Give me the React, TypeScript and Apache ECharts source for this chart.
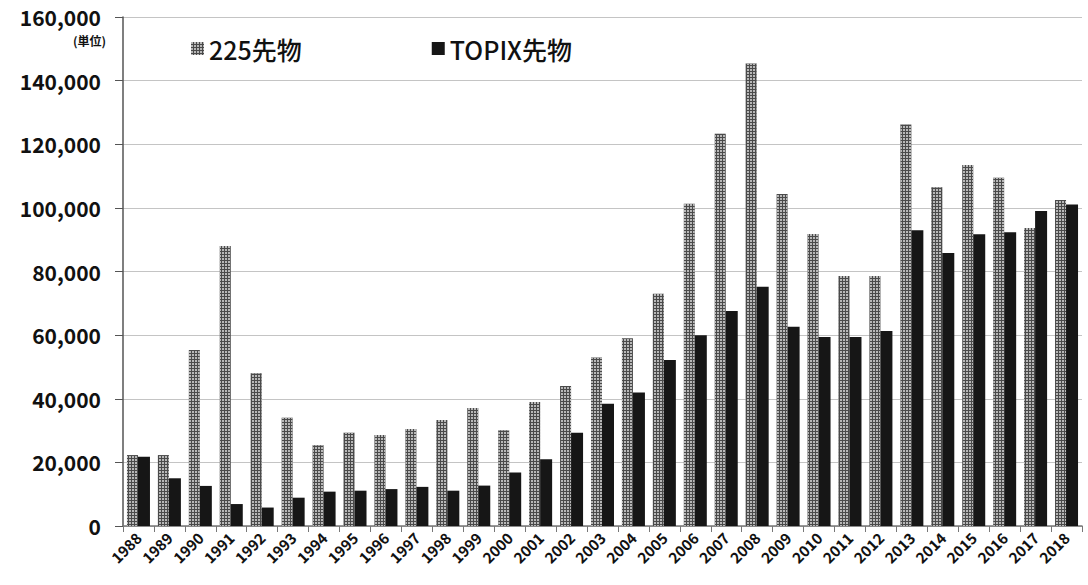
import React, { useEffect, useRef } from "react";
import * as echarts from "echarts";

const years = [
  "1988","1989","1990","1991","1992","1993","1994","1995","1996","1997",
  "1998","1999","2000","2001","2002","2003","2004","2005","2006","2007",
  "2008","2009","2010","2011","2012","2013","2014","2015","2016","2017","2018",
];
const nikkei225 = [
  22300, 22300, 55300, 88000, 48000, 34000, 25400, 29300, 28600, 30500,
  33300, 37100, 30100, 39000, 44000, 53000, 59000, 73000, 101300, 123300,
  145400, 104400, 91800, 78600, 78600, 126200, 106500, 113500, 109500, 93700, 102500,
];
const topix = [
  21800, 15000, 12600, 6900, 5800, 8900, 10800, 11100, 11600, 12300,
  11100, 12700, 16800, 21000, 29300, 38400, 42000, 52200, 60000, 67600,
  75200, 62600, 59400, 59400, 61300, 93000, 85800, 91700, 92300, 99000, 101100,
];
const seriesNames = ["225先物", "TOPIX先物"];
const unitLabel = "(単位)";

const FONT = "'Noto Sans CJK JP', 'Noto Sans', sans-serif";

export default function App() {
  const ref = useRef<HTMLDivElement>(null);
  useEffect(() => {
    if (!ref.current) return;
    const chart = echarts.init(ref.current, null, { renderer: "svg" });
    const decal = {
      symbol: "rect",
      symbolSize: 1,
      dashArrayX: [[2, 1]],
      dashArrayY: [2, 1],
      color: "#b8b8b8",
      rotation: 0,
    };
    chart.setOption({
      animation: false,
      backgroundColor: "#ffffff",
      grid: { left: 123, right: 6, top: 17, bottom: 59, containLabel: false },
      legend: {
        left: 186,
        top: 31,
        itemGap: 130,
        itemWidth: 13,
        itemHeight: 13,
        icon: "rect",
        textStyle: { fontFamily: FONT, fontSize: 25, fontWeight: 500, color: "#111" },
        data: seriesNames,
      },
      graphic: [
        {
          type: "text",
          right: 1088 - 106,
          top: 34,
          style: {
            text: unitLabel,
            fontFamily: FONT,
            fontSize: 12,
            fontWeight: "bold",
            fill: "#111",
          },
        },
      ],
      xAxis: {
        type: "category",
        data: years,
        boundaryGap: true,
        axisLine: { lineStyle: { color: "#777", width: 1.5 } },
        axisTick: { show: true, length: 6, lineStyle: { color: "#777" } },
        axisLabel: {
          rotate: 45,
          interval: 0,
          margin: 9,
          fontFamily: FONT,
          fontWeight: "bold",
          fontSize: 15,
          color: "#111",
        },
      },
      yAxis: {
        type: "value",
        min: 0,
        max: 160000,
        interval: 20000,
        axisLine: { show: true, lineStyle: { color: "#555", width: 1.5 } },
        axisTick: { show: true, length: 8, lineStyle: { color: "#555" } },
        splitLine: { lineStyle: { color: "#c4c4c4", width: 1.2 } },
        axisLabel: {
          margin: 22,
          fontFamily: FONT,
          fontWeight: "bold",
          fontSize: 21,
          color: "#111",
          formatter: (v: number) => v.toLocaleString("en-US"),
        },
      },
      series: [
        {
          name: seriesNames[0],
          type: "bar",
          data: nikkei225,
          barWidth: 11,
          barGap: "0%",
          itemStyle: { color: "#4a4a4a", decal },
        },
        {
          name: seriesNames[1],
          type: "bar",
          data: topix,
          barWidth: 12,
          itemStyle: { color: "#161616" },
        },
      ],
    });
    return () => chart.dispose();
  }, []);
  return <div ref={ref} style={{ width: 1088, height: 585, position: "absolute", left: 0, top: 0 }} />;
}
